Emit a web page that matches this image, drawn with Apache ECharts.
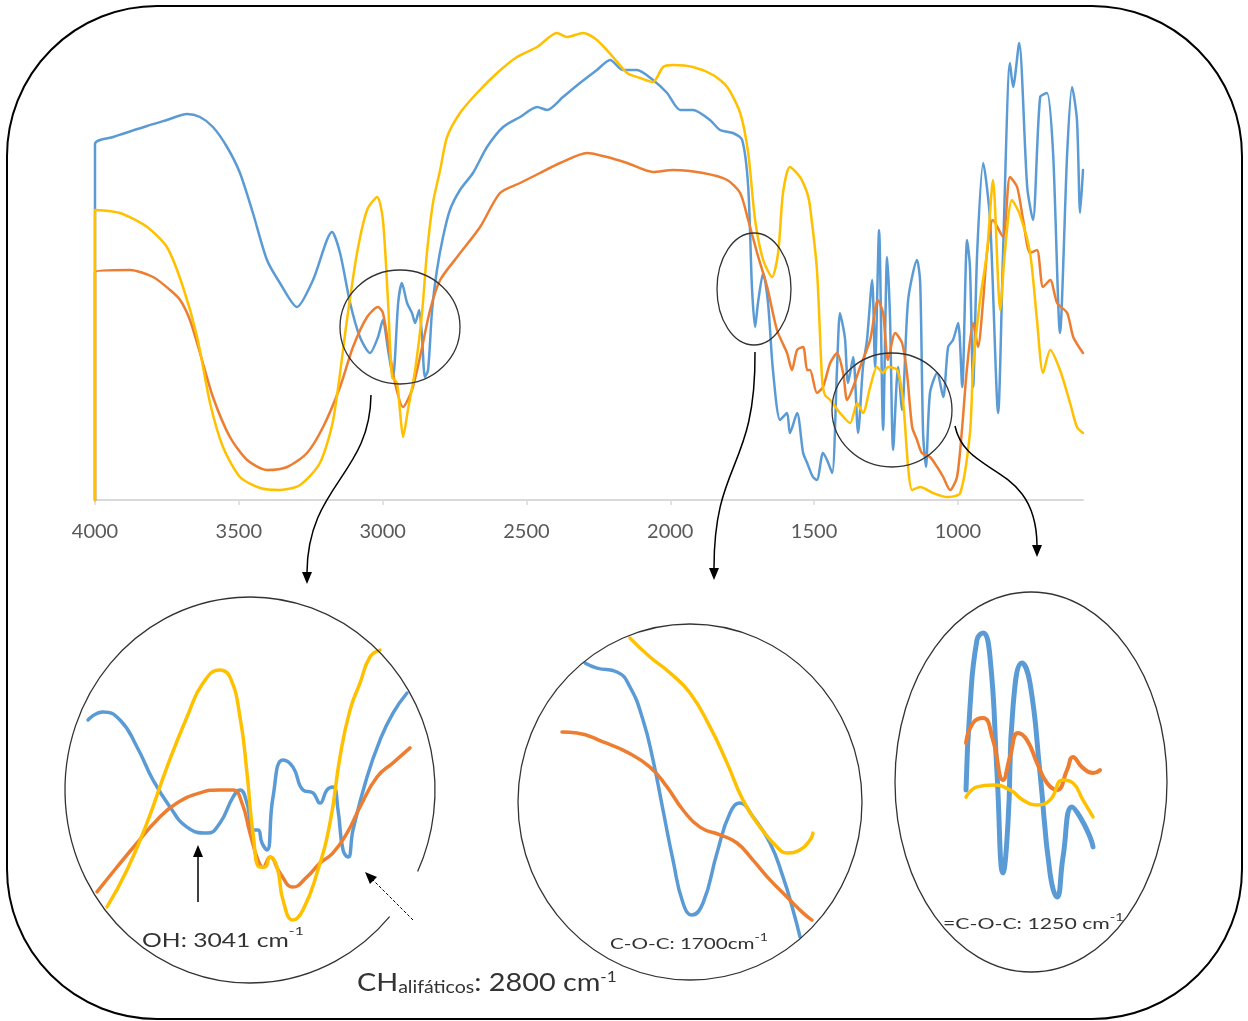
<!DOCTYPE html>
<html>
<head>
<meta charset="utf-8">
<script src="https://cdn.jsdelivr.net/npm/echarts@6/dist/echarts.min.js"></script>
<style>
  html, body { margin: 0; padding: 0; background: #fff; }
  #chart { width: 1248px; height: 1021px; }
</style>
</head>
<body>
<div id="chart"></div>
<script>
// tick labels of the wavenumber axis (cm-1)
var tickValues = [4000, 3500, 3000, 2500, 2000, 1500, 1000]

// full spectra: [wavenumber, transmittance]
var blueMain = [[4000,0],[4000,71.2],[3937,72.6],[3819,74.8],[3750,76],[3680,77.2],[3635,76.6],[3590,74.6],[3541,70.6],[3496,65.4],[3451,57.4],[3402,48],[3357,43.4],[3298,38.6],[3242,44],[3176,53.6],[3148,49.4],[3113,39.4],[3079,32.6],[3044,29.4],[3016,32.6],[2999,36],[2981,30],[2964,24.6],[2946,39.4],[2933,43.4],[2915,39.4],[2898,37.4],[2887,35.4],[2873,38],[2863,32.6],[2853,24.6],[2842,26],[2828,38],[2811,46],[2790,52.6],[2766,58],[2731,62],[2686,65.4],[2637,70.6],[2581,74.6],[2522,76.6],[2463,78.6],[2428,78],[2373,80.6],[2314,83.4],[2255,86],[2209,88],[2164,86],[2116,86],[2060,84],[2011,81.4],[1966,78],[1921,78],[1862,76],[1827,74],[1782,73.4],[1750,72],[1729,62.6],[1716,42.6],[1705,34.6],[1695,39.4],[1677,45.4],[1660,39.4],[1643,26],[1618,16],[1594,17.4],[1584,13.4],[1559,17.4],[1538,9.4],[1524,7.4],[1504,4.6],[1490,4],[1469,9.4],[1455,8],[1437,5.4],[1420,26.6],[1410,37.4],[1399,34.6],[1392,32],[1382,23.4],[1364,28.6],[1347,13.4],[1330,26.6],[1316,32],[1298,44],[1288,26.6],[1274,54],[1260,14],[1246,48.6],[1236,36.6],[1225,10],[1208,26.6],[1194,18],[1173,40],[1142,48],[1131,43.4],[1121,13.4],[1111,6.6],[1097,21.4],[1072,25.4],[1051,20.6],[1034,30.6],[1017,32],[999,35.4],[985,22.6],[968,52],[958,46.6],[947,22.6],[933,49.4],[912,67.4],[888,56],[860,17.4],[843,49.4],[819,87.4],[808,82.6],[787,91.4],[759,62.6],[739,56],[714,80.6],[690,81.4],[669,69.4],[645,33.4],[620,69.4],[603,82.6],[586,76],[575,57.4],[565,66]]

var orangeMain = [[4000,0],[4000,45.6],[3878,46],[3798,44.6],[3739,42],[3704,40],[3670,36],[3635,29.4],[3590,20.6],[3531,12.6],[3471,8],[3402,6],[3332,6.6],[3263,9.4],[3207,14.6],[3148,22.6],[3103,30.6],[3054,36.6],[3016,38.6],[2999,37.4],[2981,31.4],[2957,23.4],[2929,18.6],[2898,22],[2870,28.6],[2835,38],[2800,44],[2741,48.6],[2661,54.6],[2592,61.4],[2522,63.4],[2453,65.4],[2383,67.4],[2289,69.4],[2220,68.6],[2150,67.4],[2060,65.6],[1990,66],[1886,65.4],[1802,64],[1757,61.4],[1729,56],[1698,49.4],[1663,42.6],[1629,34],[1594,29.4],[1577,26],[1559,30],[1538,30.6],[1524,26],[1514,26],[1490,21.4],[1469,22.6],[1444,27.4],[1420,29.4],[1399,25.4],[1385,20],[1364,22.6],[1340,26.6],[1305,32],[1278,40],[1260,37.4],[1243,28],[1218,33.4],[1194,31.4],[1177,25.4],[1159,14.6],[1142,12],[1125,9.4],[1097,8.6],[1072,6.6],[1051,4.6],[1027,2],[1003,4.6],[985,14.6],[968,26.6],[947,35.4],[930,30.6],[912,40],[899,49.4],[878,56],[843,52.6],[819,64.6],[794,62.6],[773,56],[749,49.4],[725,50],[704,42.6],[679,44],[655,39.4],[620,37.4],[599,32.6],[565,29.4]]

var yellowMain = [[4000,0],[4000,58],[3913,57.4],[3819,54.6],[3750,50.6],[3694,42.6],[3645,32.6],[3600,19.4],[3555,10.6],[3496,4.6],[3426,2.4],[3357,2],[3287,3],[3218,7.4],[3172,16],[3124,36],[3089,49.4],[3054,58],[3019,60.6],[2999,56],[2981,39.4],[2967,24.6],[2950,23.4],[2940,18],[2929,12.6],[2912,18],[2887,26],[2863,37.4],[2846,49.4],[2825,59.4],[2800,66],[2776,72.6],[2731,77.4],[2672,81.4],[2602,85.4],[2533,88.6],[2463,90.6],[2394,93.4],[2359,92.6],[2303,93.4],[2255,92],[2199,88.6],[2150,85.4],[2105,84.4],[2060,83.6],[2025,86.6],[1990,87],[1921,86.6],[1851,85],[1802,82.6],[1757,77.4],[1729,69.4],[1705,56],[1677,48],[1646,44.6],[1625,49.4],[1608,61.4],[1584,66.6],[1549,64.6],[1524,61.4],[1514,58.6],[1490,46],[1472,24],[1462,21],[1444,20],[1410,17.4],[1375,15.4],[1350,19.4],[1330,17.4],[1305,22.6],[1281,26.6],[1260,25.4],[1243,26.6],[1211,26],[1191,20],[1173,6.6],[1159,2],[1131,2.6],[1086,1.4],[1038,0.6],[992,1.4],[958,13.4],[947,26.6],[923,40],[899,49.4],[878,64],[853,38],[836,50],[812,60],[784,57],[749,49.4],[725,36],[704,25.4],[679,30],[645,26],[610,19.4],[586,14.6],[565,13.4]]

// zoom 1: OH / CH region
var blueOH = [[3107,70],[3092,72.7],[3075,70],[3058,61],[3042,50],[3025,41],[3008,34.3],[2988,32.3],[2975,35.7],[2962,44.3],[2955,46.7],[2948,42.3],[2942,33.3],[2937,33.3],[2933,29],[2928,26.7],[2922,44.3],[2912,56.7],[2902,54.3],[2892,46.7],[2882,45.7],[2875,42.3],[2868,46.7],[2862,47.7],[2857,40],[2852,26.7],[2847,24.3],[2842,33.3],[2828,51],[2815,63.3],[2802,72.3],[2788,79]]
var orangeOH = [[3098,12.7],[3078,21],[3058,29],[3038,36.7],[3018,42.3],[2995,45.7],[2975,46.7],[2962,46.7],[2953,42.3],[2945,32.3],[2937,23.3],[2932,21],[2925,24.3],[2915,19],[2902,14.3],[2888,17.7],[2875,22.3],[2862,25.7],[2848,32.3],[2835,41],[2818,51],[2802,55.7],[2785,60.7]]
var yellowOH = [[3088,7.7],[3068,20],[3048,35.7],[3028,54.3],[3008,71],[2992,82.3],[2975,86.7],[2965,84.3],[2955,71],[2948,52.3],[2942,32.3],[2935,21],[2930,21],[2925,24.3],[2918,21],[2912,10],[2902,3.3],[2892,6.7],[2878,19],[2865,35.7],[2855,57.7],[2845,73.3],[2835,82.3],[2825,91],[2815,93.3]]

// zoom 2: C-O-C 1700 region
var blueCO = [[1775,89],[1763,87.3],[1743,86],[1730,81],[1717,70],[1707,56.7],[1697,40],[1687,23.3],[1677,9],[1668,5],[1657,9],[1643,25.7],[1630,39],[1620,42.3],[1607,37.7],[1590,29],[1577,17.7],[1567,6.7],[1560,-2.3]]
var orangeCO = [[1798,66],[1783,65.7],[1757,62.7],[1733,59.3],[1710,54.3],[1693,47.7],[1677,40],[1660,34.3],[1640,31.7],[1623,29],[1607,23.3],[1590,16.7],[1573,11],[1557,5.7],[1548,3.3]]
var yellowCO = [[1730,97.3],[1710,91],[1690,85.7],[1670,79],[1650,67.7],[1633,55.7],[1617,43.3],[1600,34.3],[1583,27.7],[1573,25.7],[1560,26.7],[1550,30],[1547,32.3]]

// zoom 3: =C-O-C 1250 region
var blueCOC = [[1294,46.7],[1290,74.3],[1283,96.7],[1277,99],[1270,91],[1263,52.3],[1257,19],[1252,35.7],[1247,74.3],[1238,89],[1230,82.3],[1220,52.3],[1210,19],[1203,11],[1197,24.3],[1188,41],[1180,37.7],[1170,31],[1167,27.7]]
var orangeCOC = [[1294,62.3],[1287,69],[1277,70.7],[1267,63.3],[1257,50],[1250,57.7],[1242,65.7],[1233,63.3],[1223,55.7],[1213,49],[1203,46.7],[1193,53.3],[1187,57.7],[1178,54.3],[1167,52.3],[1160,53.3]]
var yellowCOC = [[1294,44.3],[1283,47.7],[1267,48.3],[1250,46.7],[1237,43.3],[1223,41.7],[1210,43.3],[1197,50],[1187,49],[1177,43.3],[1167,37.7]]

var BLUE = '#5B9BD5'
var ORANGE = '#ED7D31'
var YELLOW = '#FFC000'
var INK = '#333'

function line (data, color, width, idx, smooth) {
  return {
    type: 'line',
    data: data,
    xAxisIndex: idx,
    yAxisIndex: idx,
    showSymbol: false,
    smooth: smooth,
    clip: false,
    lineStyle: { color: color, width: width, cap: 'round', join: 'round' },
    silent: true
  }
}

function hiddenX (idx, min, max) {
  return { type: 'value', gridIndex: idx, inverse: true, min: min, max: max, show: false }
}
function hiddenY (idx) {
  return { type: 'value', gridIndex: idx, min: -5, max: 100, show: false }
}

function arrowHead (tx, ty, dx, dy) {
  // small filled triangle with its tip at (tx, ty), pointing along (dx, dy)
  var len = 12, half = 5
  var n = Math.sqrt(dx * dx + dy * dy)
  var ux = dx / n, uy = dy / n
  var bx = tx - ux * len, by = ty - uy * len
  return {
    type: 'polygon',
    shape: { points: [[tx, ty], [bx - uy * half, by + ux * half], [bx + uy * half, by - ux * half]] },
    style: { fill: '#000' },
    z: 100
  }
}

// the source picture is stretched sideways, so the labels get a scaleX
function label (x, y, sx, text, rich) {
  return { type: 'text', x: x, y: y, scaleX: sx, style: { text: text, rich: rich, fill: INK, fontFamily: 'Lato' }, z: 100 }
}

var chart = echarts.init(document.getElementById('chart'))

chart.setOption({
  animation: false,
  backgroundColor: '#fff',
  grid: [
    { left: 95, right: 165, top: 30, bottom: 521 },
    { left: 85, width: 330, top: 630, height: 315 },
    { left: 560, width: 260, top: 630, height: 315 },
    { left: 960, width: 150, top: 630, height: 315 }
  ],
  xAxis: [
    {
      type: 'value',
      gridIndex: 0,
      inverse: true,
      min: 565,
      max: 4000,
      splitLine: { show: false },
      axisLine: { lineStyle: { color: '#d9d9d9', width: 2 } },
      axisTick: { show: true, length: 5, customValues: tickValues, lineStyle: { color: '#d9d9d9', width: 1.5 } },
      axisLabel: {
        customValues: tickValues,
        color: '#595959',
        fontSize: 20,
        fontFamily: 'Lato',
        margin: 22,
        formatter: function (v) { return String(v) }
      }
    },
    hiddenX(1, 2780, 3110),
    hiddenX(2, 1540, 1800),
    hiddenX(3, 1150, 1300)
  ],
  yAxis: [
    { type: 'value', gridIndex: 0, min: 0, max: 94, show: false },
    hiddenY(1),
    hiddenY(2),
    hiddenY(3)
  ],
  series: [
    line(blueMain, BLUE, 2.5, 0, 0.25),
    line(orangeMain, ORANGE, 2.5, 0, 0.25),
    line(yellowMain, YELLOW, 2.5, 0, 0.25),
    line(blueOH, BLUE, 3.5, 1, 0.5),
    line(orangeOH, ORANGE, 3.5, 1, 0.5),
    line(yellowOH, YELLOW, 3.5, 1, 0.5),
    line(blueCO, BLUE, 3.5, 2, 0.5),
    line(orangeCO, ORANGE, 3.5, 2, 0.5),
    line(yellowCO, YELLOW, 3.5, 2, 0.5),
    line(blueCOC, BLUE, 5, 3, 0.5),
    line(orangeCOC, ORANGE, 4, 3, 0.5),
    line(yellowCOC, YELLOW, 3.5, 3, 0.5)
  ],
  graphic: [
    // rounded frame
    { type: 'rect', shape: { x: 7, y: 6, width: 1235, height: 1013, r: 150 }, style: { fill: 'none', stroke: '#000', lineWidth: 2 }, z: 90 },
    // marks on the spectrum
    { type: 'ellipse', shape: { cx: 400, cy: 327, rx: 60, ry: 57 }, style: { fill: 'none', stroke: INK, lineWidth: 1.3 }, z: 100 },
    { type: 'ellipse', shape: { cx: 754, cy: 289, rx: 37, ry: 56 }, style: { fill: 'none', stroke: INK, lineWidth: 1.3 }, z: 100 },
    { type: 'ellipse', shape: { cx: 892, cy: 410, rx: 60, ry: 57 }, style: { fill: 'none', stroke: INK, lineWidth: 1.3 }, z: 100 },
    // connectors to the zooms
    { type: 'bezierCurve', shape: { x1: 371, y1: 395, cpx1: 370, cpy1: 475, cpx2: 308, cpy2: 485, x2: 307, y2: 572 }, style: { fill: 'none', stroke: '#000', lineWidth: 1.5 }, z: 100 },
    arrowHead(307, 584, 0, 1),
    { type: 'bezierCurve', shape: { x1: 755, y1: 352, cpx1: 756, cpy1: 470, cpx2: 714, cpy2: 460, x2: 714, y2: 568 }, style: { fill: 'none', stroke: '#000', lineWidth: 1.5 }, z: 100 },
    arrowHead(714, 580, 0, 1),
    { type: 'bezierCurve', shape: { x1: 955, y1: 426, cpx1: 966, cpy1: 478, cpx2: 1036, cpy2: 462, x2: 1037, y2: 545 }, style: { fill: 'none', stroke: '#000', lineWidth: 1.5 }, z: 100 },
    arrowHead(1037, 557, 0, 1),
    // zoom outlines
    { type: 'arc', x: 250, y: 790, scaleY: 193 / 185, shape: { cx: 0, cy: 0, r: 185, startAngle: 41 * Math.PI / 180, endAngle: (25 + 360) * Math.PI / 180, clockwise: true }, style: { fill: 'none', stroke: INK, lineWidth: 1.3 }, z: 100 },
    { type: 'ellipse', shape: { cx: 690, cy: 802, rx: 172, ry: 178 }, style: { fill: 'none', stroke: INK, lineWidth: 1.3 }, z: 100 },
    { type: 'ellipse', shape: { cx: 1031, cy: 782, rx: 136, ry: 190 }, style: { fill: 'none', stroke: INK, lineWidth: 1.3 }, z: 100 },
    // OH and CH pointers
    { type: 'line', shape: { x1: 198, y1: 902, x2: 198, y2: 855 }, style: { stroke: '#000', lineWidth: 1.5 }, z: 100 },
    arrowHead(198, 845, 0, -1),
    { type: 'line', shape: { x1: 413, y1: 920, x2: 372, y2: 879 }, style: { stroke: '#000', lineWidth: 1, lineDash: [3, 2] }, z: 100 },
    arrowHead(365, 872, -1, -1),
    // annotations
    label(142, 925, 1.3, '{a|OH: 3041 cm}{b|-1}', {
      a: { fontSize: 19, lineHeight: 32, fontFamily: 'Lato', fill: INK },
      b: { fontSize: 12, lineHeight: 12, verticalAlign: 'top', fontFamily: 'Lato', fill: INK }
    }),
    label(357, 970, 1.15, '{a|CH}{b|alifáticos}{a|: 2800 cm}{c|-1}', {
      a: { fontSize: 25, lineHeight: 26, fontFamily: 'Lato', fill: INK },
      b: { fontSize: 17, lineHeight: 17, verticalAlign: 'bottom', fontFamily: 'Lato', fill: INK },
      c: { fontSize: 15, lineHeight: 15, verticalAlign: 'top', fontFamily: 'Lato', fill: INK }
    }),
    label(610, 932, 1.29, '{a|C-O-C: 1700cm}{b|-1}', {
      a: { fontSize: 16, lineHeight: 24, fontFamily: 'Lato', fill: INK },
      b: { fontSize: 11, lineHeight: 11, verticalAlign: 'top', fontFamily: 'Lato', fill: INK }
    }),
    label(943, 912, 1.33, '{a|=C-O-C: 1250 cm}{b|-1}', {
      a: { fontSize: 16, lineHeight: 24, fontFamily: 'Lato', fill: INK },
      b: { fontSize: 11, lineHeight: 11, verticalAlign: 'top', fontFamily: 'Lato', fill: INK }
    })
  ]
})
</script>
</body>
</html>
